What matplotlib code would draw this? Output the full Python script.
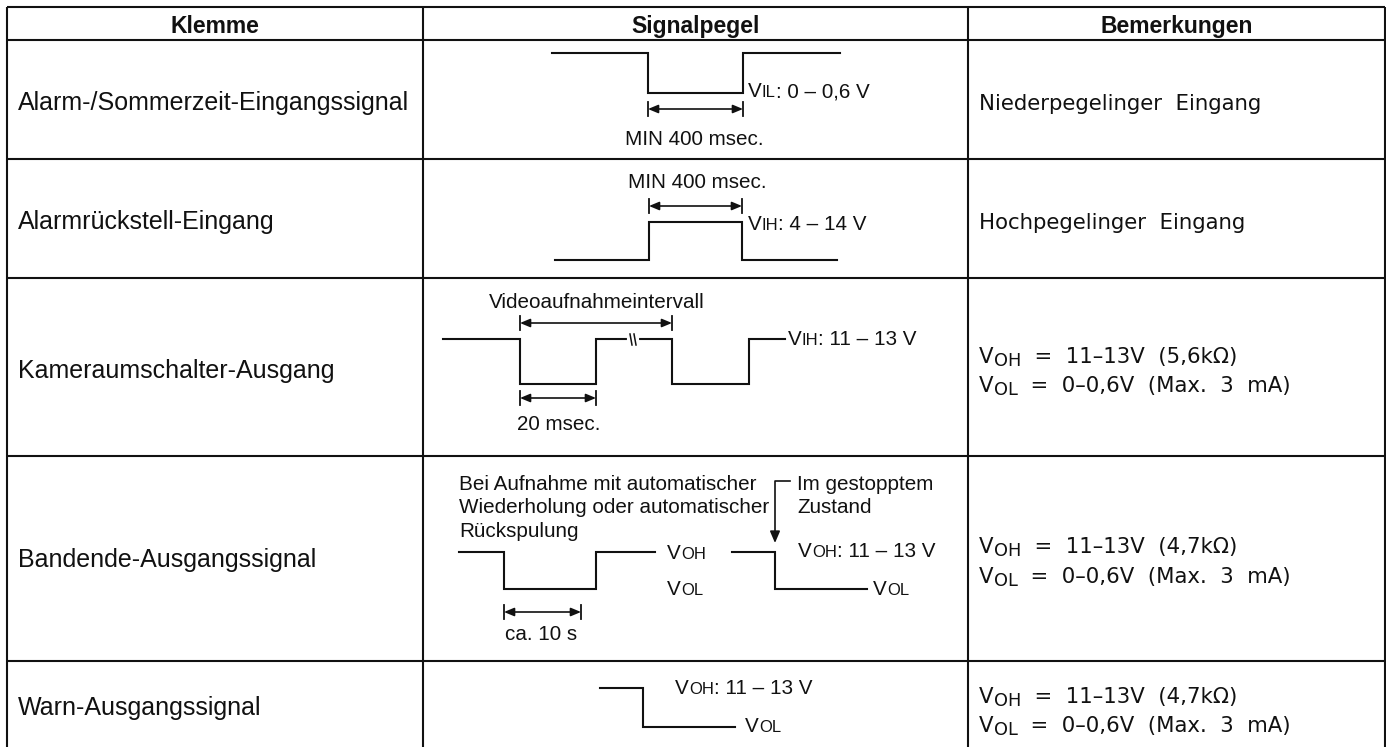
import matplotlib.pyplot as plt
from matplotlib.font_manager import FontProperties, findfont
from matplotlib.ft2font import FT2Font

# ==========================================
# Table content
# ==========================================
HEADERS = ["Klemme", "Signalpegel", "Bemerkungen"]
KLEMME = [
    "Alarm-/Sommerzeit-Eingangssignal",
    "Alarmrückstell-Eingang",
    "Kameraumschalter-Ausgang",
    "Bandende-Ausgangssignal",
    "Warn-Ausgangssignal",
]
# remarks: (main, subscript, rest)
REMARKS = [
    [("Niederpegelinger  Eingang", "", "")],
    [("Hochpegelinger  Eingang", "", "")],
    [("V", "OH", "  =  11–13V  (5,6kΩ)"), ("V", "OL", "  =  0–0,6V  (Max.  3  mA)")],
    [("V", "OH", "  =  11–13V  (4,7kΩ)"), ("V", "OL", "  =  0–0,6V  (Max.  3  mA)")],
    [("V", "OH", "  =  11–13V  (4,7kΩ)"), ("V", "OL", "  =  0–0,6V  (Max.  3  mA)")],
]

# signal shapes: edge positions + level (1 = high, 0 = low)
WAVE1_EDGES = [552, 648, 743, 840]
WAVE1_LEVELS = [1, 0, 1]
WAVE2_EDGES = [555, 649, 742, 837]
WAVE2_LEVELS = [0, 1, 0]
WAVE3_EDGES = [443, 520, 596, 672, 749, 785]
WAVE3_LEVELS = [1, 0, 1, 0, 1]
WAVE4A_EDGES = [459, 504, 596, 655]
WAVE4A_LEVELS = [1, 0, 1]
WAVE4B_EDGES = [732, 775, 867]
WAVE4B_LEVELS = [1, 0]
WAVE5_EDGES = [600, 643, 735]
WAVE5_LEVELS = [1, 0]

# level labels: (main, small caps, rest)
LEVEL_LABELS = [
    ("V", "IL", ": 0 – 0,6 V"),
    ("V", "IH", ": 4 – 14 V"),
    ("V", "IH", ": 11 – 13 V"),
    ("V", "OH", ""),
    ("V", "OL", ""),
    ("V", "OH", ": 11 – 13 V"),
    ("V", "OL", ""),
    ("V", "OH", ": 11 – 13 V"),
    ("V", "OL", ""),
]
TIME_LABELS = ["MIN 400 msec.", "MIN 400 msec.", "Videoaufnahmeintervall",
               "20 msec.", "ca. 10 s"]
NOTE_LINES = ["Bei Aufnahme mit automatischer", "Wiederholung oder automatischer",
              "Rückspulung"]
STOP_LINES = ["Im gestopptem", "Zustand"]

# ==========================================
# Layout (pixels)
# ==========================================
W, H, DPI = 1386, 747, 100
SANS = "Liberation Sans"
REMARK_FONT = "DejaVu Sans"
INK = "#111111"

COL_X = [7, 423, 968, 1385]
ROW_Y = [7, 40, 159, 278, 456, 661]
KLEMME_BASE = [110, 229, 378, 567, 715]
REMARK_BASE = [[110], [229], [363, 392], [553, 583], [703, 732]]

plt.rcParams["font.family"] = [SANS, "DejaVu Sans"]

fig = plt.figure(figsize=(W / DPI, H / DPI), dpi=DPI)
ax = fig.add_axes([0, 0, 1, 1])
ax.set_xlim(0, W)
ax.set_ylim(H, 0)
ax.axis("off")

_fonts = {}


def text_width(s, size, family=SANS, weight="normal"):
    path = findfont(FontProperties(family=family, weight=weight))
    ft = _fonts.setdefault(path, FT2Font(path))
    ft.set_size(size, DPI)
    return sum(ft.load_char(ord(c)).linearHoriAdvance / 65536 for c in s)


def run(x, y, pieces, family=SANS):
    """pieces: (text, size, dy) drawn one after another on a baseline"""
    for s, size, dy in pieces:
        if not s:
            continue
        ax.text(x, y + dy, s, fontsize=size, family=family, color=INK,
                ha="left", va="baseline")
        x += text_width(s, size, family)


def step(edges, levels, y_hi, y_lo):
    px, py = [], []
    for i, lev in enumerate(levels):
        y = y_hi if lev else y_lo
        px += [edges[i], edges[i + 1]]
        py += [y, y]
    return px, py


def dim(x1, x2, y):
    ax.annotate("", xy=(x2, y), xytext=(x1, y),
                arrowprops=dict(arrowstyle="<|-|>,head_length=0.6,head_width=0.25",
                                lw=1.2, color=INK, shrinkA=0, shrinkB=0,
                                mutation_scale=10))
    ax.plot([x1, x1], [y - 7, y + 7], color=INK, lw=1.3)
    ax.plot([x2, x2], [y - 7, y + 7], color=INK, lw=1.3)


# ---- grid ----
for x in COL_X:
    ax.plot([x, x], [ROW_Y[0], H], color=INK, lw=1.5, solid_capstyle="butt")
for y in ROW_Y:
    ax.plot([COL_X[0], COL_X[-1]], [y, y], color=INK, lw=1.5, solid_capstyle="butt")

# ---- header ----
for i, h in enumerate(HEADERS):
    ax.text((COL_X[i] + COL_X[i + 1]) / 2, 33, h, fontsize=16.5, fontweight="bold",
            ha="center", va="baseline", color=INK)

# ---- Klemme column ----
for name, yb in zip(KLEMME, KLEMME_BASE):
    ax.text(18, yb, name, fontsize=18, ha="left", va="baseline", color=INK)

# ---- Bemerkungen column ----
for lines, bases in zip(REMARKS, REMARK_BASE):
    for (main, sub, rest), yb in zip(lines, bases):
        run(979, yb, [(main, 15.3, 0), (sub, 12.8, 3), (rest, 15.3, 0)], family=REMARK_FONT)

# ---- Signalpegel column ----
wlw = 1.5
for edges, levels, hi, lo in [
    (WAVE1_EDGES, WAVE1_LEVELS, 53, 93),
    (WAVE2_EDGES, WAVE2_LEVELS, 222, 260),
    (WAVE3_EDGES, WAVE3_LEVELS, 339, 384),
    (WAVE4A_EDGES, WAVE4A_LEVELS, 552, 589),
    (WAVE4B_EDGES, WAVE4B_LEVELS, 552, 589),
    (WAVE5_EDGES, WAVE5_LEVELS, 688, 727),
]:
    px, py = step(edges, levels, hi, lo)
    ax.plot(px, py, color=INK, lw=wlw, solid_joinstyle="miter")

# break mark in the long interval
ax.plot([629, 637], [339, 339], color="white", lw=3)
ax.plot([630, 632], [334, 345], color=INK, lw=1.1)
ax.plot([634, 636], [334, 345], color=INK, lw=1.1)

# dimension arrows
dim(648, 743, 109)
dim(649, 742, 206)
dim(520, 672, 323)
dim(520, 596, 398)
dim(504, 581, 612)

MID = 14.9
SMALL = 12
ax.text(694, 145, TIME_LABELS[0], fontsize=MID, ha="center", va="baseline", color=INK)
ax.text(697, 188, TIME_LABELS[1], fontsize=MID, ha="center", va="baseline", color=INK)
ax.text(597, 308, TIME_LABELS[2], fontsize=MID, ha="center", va="baseline", color=INK)
ax.text(517, 430, TIME_LABELS[3], fontsize=MID, ha="left", va="baseline", color=INK)
ax.text(505, 640, TIME_LABELS[4], fontsize=MID, ha="left", va="baseline", color=INK)

for s, yb in zip(NOTE_LINES, [490, 513, 537]):
    ax.text(459, yb, s, fontsize=MID, ha="left", va="baseline", color=INK)
for s, yb in zip(STOP_LINES, [490, 513]):
    ax.text(797, yb, s, fontsize=MID, ha="left", va="baseline", color=INK)

# stopped-state pointer
ax.plot([790, 775, 775], [481, 481, 534], color=INK, lw=1.2)
ax.annotate("", xy=(775, 543), xytext=(775, 532),
            arrowprops=dict(arrowstyle="-|>,head_length=0.7,head_width=0.3",
                            lw=1.2, color=INK, shrinkA=0, shrinkB=0, mutation_scale=10))

LABEL_POS = [(748, 97), (748, 230), (788, 345), (667, 559), (667, 595),
             (798, 557), (873, 595), (675, 694), (745, 732)]
for (main, sc, rest), (x, y) in zip(LEVEL_LABELS, LABEL_POS):
    run(x, y, [(main, MID, 0), (sc, SMALL, 0), (rest, MID, 0)])

fig.savefig("out.png", dpi=DPI, facecolor="white")
